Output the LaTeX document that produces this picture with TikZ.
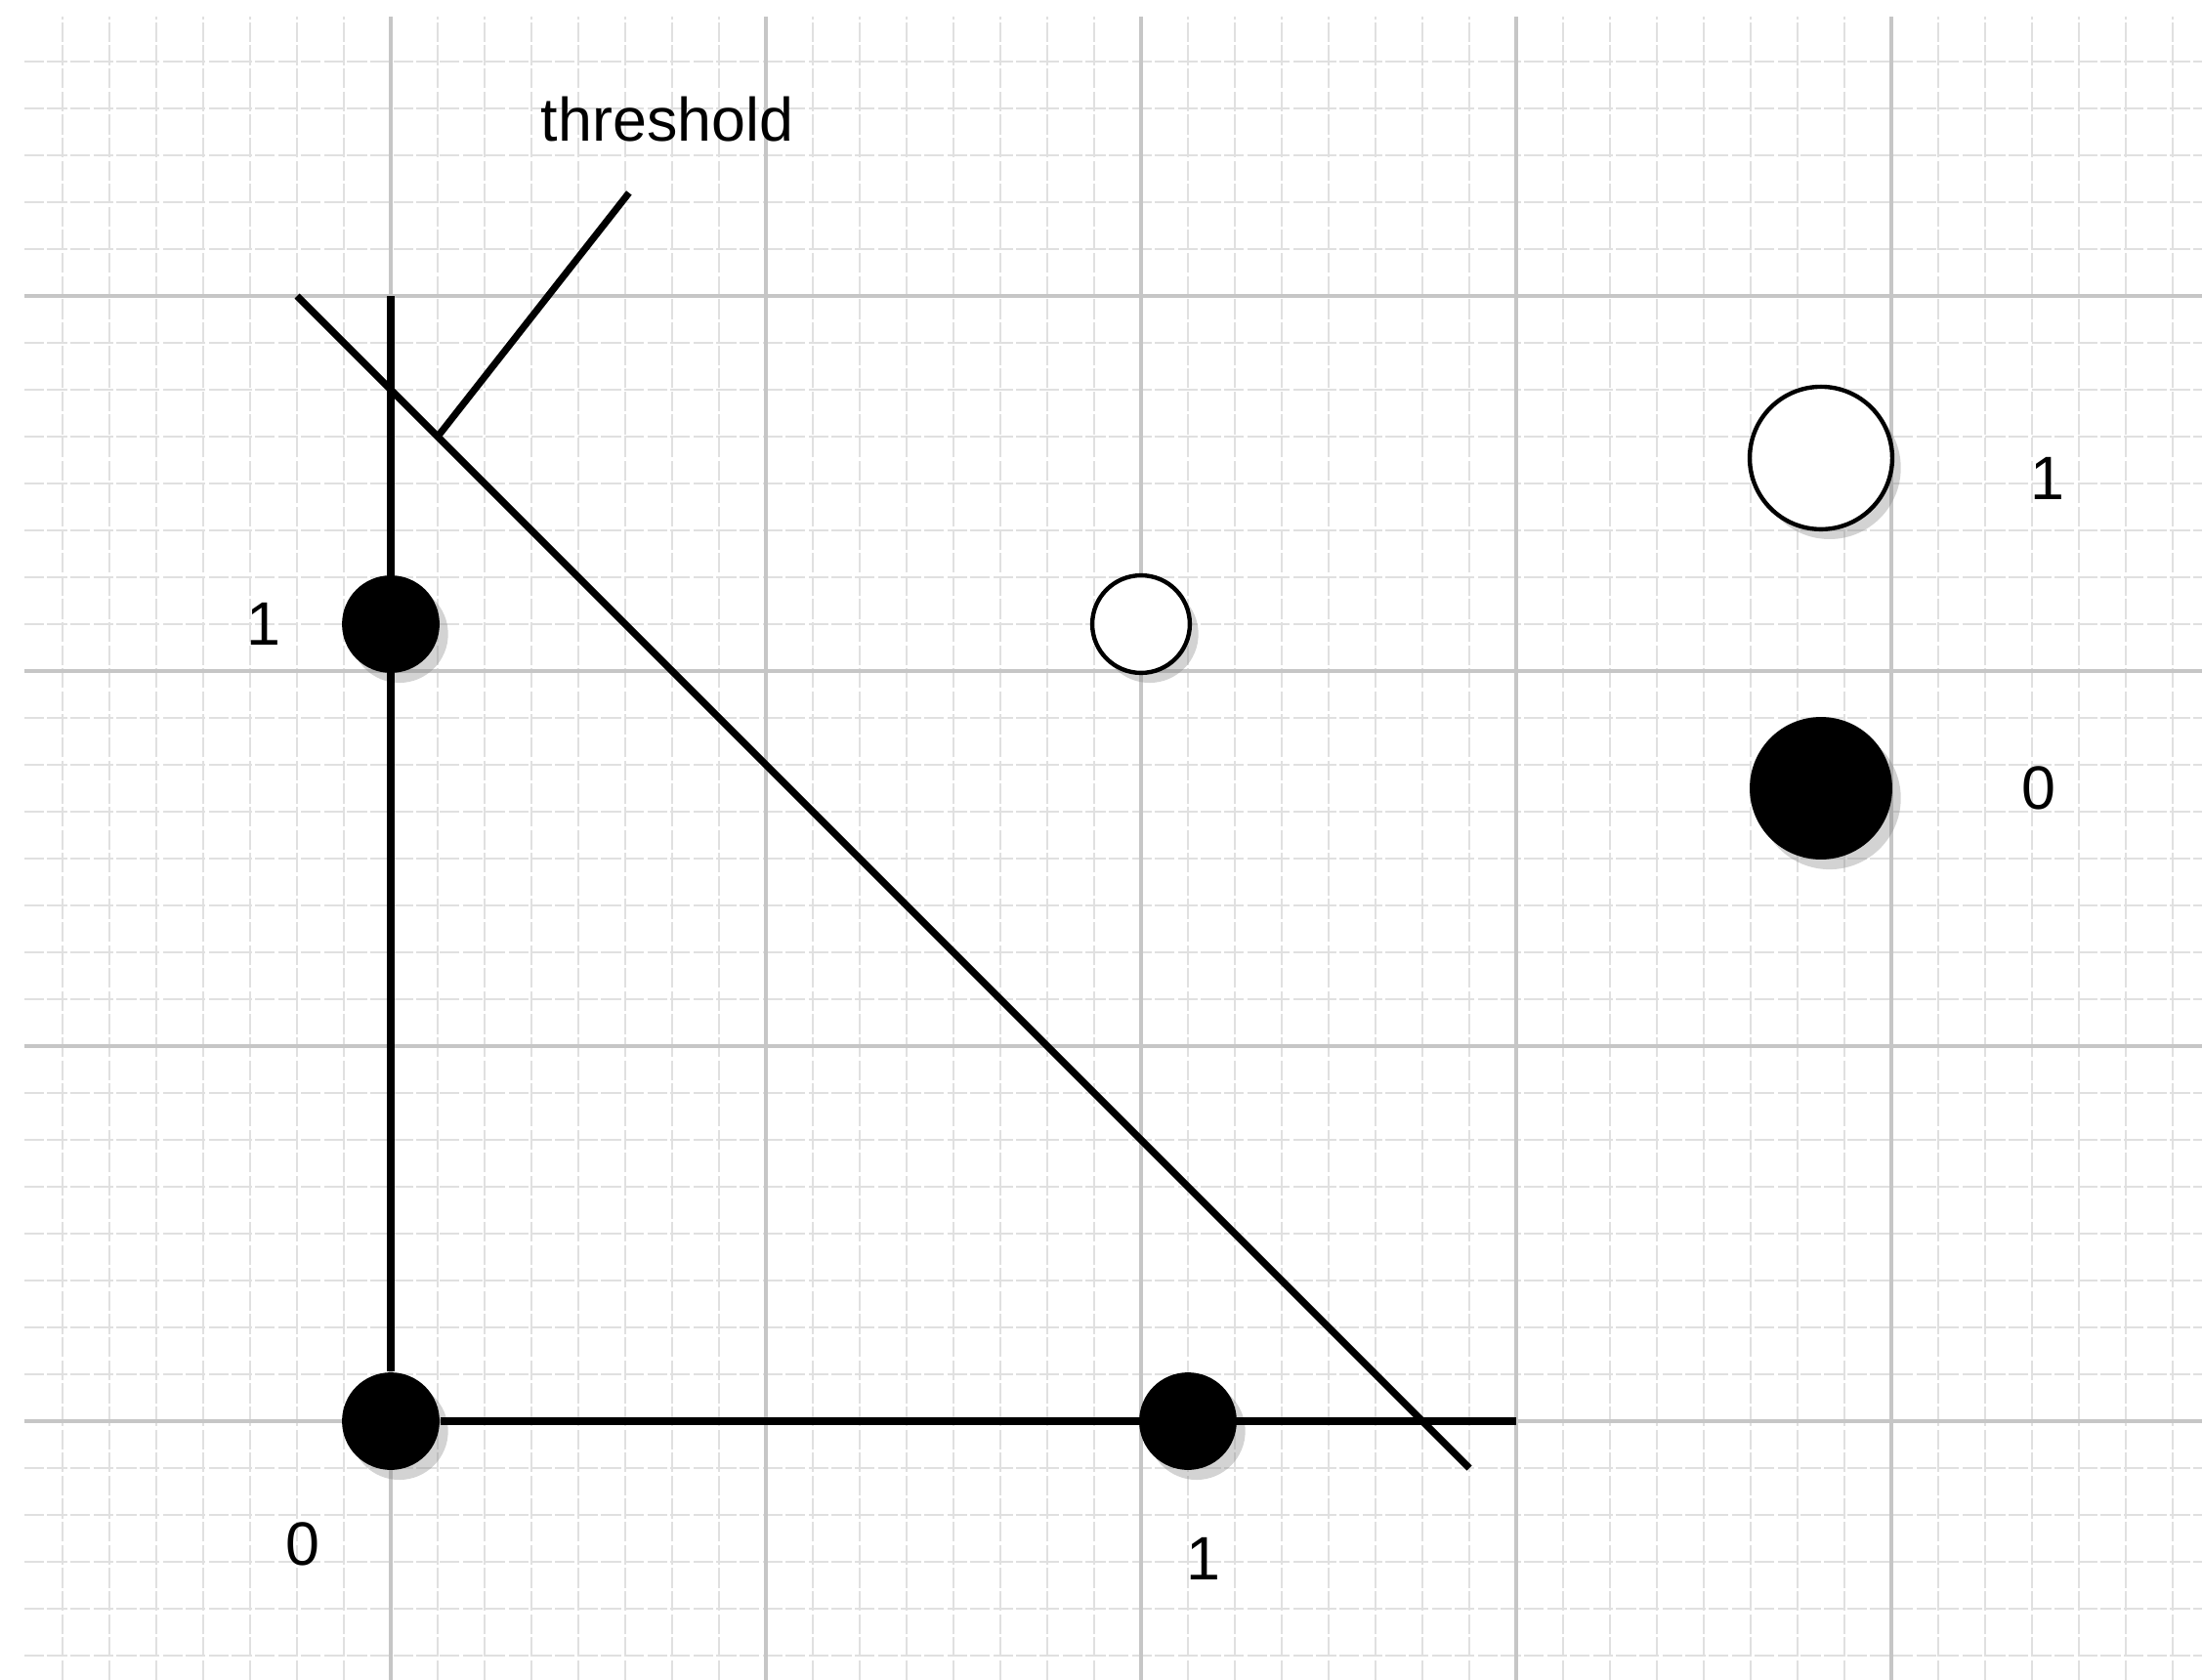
\documentclass[tikz,border=0pt]{standalone}
\usepackage{fontspec}
\setmainfont{Liberation Sans}
\usetikzlibrary{positioning, shadows}

\begin{document}
\begin{tikzpicture}[x=2cm, y=2cm, font=\fontsize{9.3}{11}\selectfont,
    dot/.style={circle, fill=black, inner sep=0pt, minimum size=0.52cm,
        drop shadow={shadow xshift=1.3pt, shadow yshift=-1.5pt, opacity=0.35}},
    hollow/.style={dot, fill=white, draw=black, line width=0.65pt},
    big/.style={minimum size=0.76cm},
    lbl/.style={inner sep=0pt, on grid},
    axis/.style={line width=1.05pt}]
    \useasboundingbox (-1.0417,-0.6901) rectangle (4.8281,3.7891);
    \draw[gray!24, line width=0.35pt, dash pattern=on 3pt off 0.5pt] (-0.977,-0.6901) grid[step=0.125] (4.8281,3.745);
    \draw[gray!45, line width=0.45pt] (-0.977,-0.6901) grid[step=1] (4.8281,3.745);

    \node[dot] (o) at (0,0) {};
    \node[dot] (ya) at (0,2.125) {};
    \node[dot] (xa) at (2.125,0) {};
    \node[hollow] (wt) at (2,2.125) {};
    \node[hollow, big] (bw) at (3.8125,2.568) {};
    \node[dot, big] (bb) at (3.8125,1.6875) {};

    \coordinate (ytop) at (0,3);
    \coordinate (xend) at (3,0);
    \coordinate (t1) at (-0.25,3);
    \coordinate (t2) at (2.875,-0.125);
    \coordinate (tp) at (0.125,2.625);
    \coordinate (tq) at (0.635,3.275);

    \draw[axis] (o) -- (ytop);
    \draw[axis] (o) -- (xend);
    \draw[axis] (t1) -- (t2);
    \draw[axis] (tp) -- (tq);

    \node (thr) at (0.737,3.471) {threshold};
    \node[lbl, below left=0.656cm and 0.468cm of o] (ol) {0};
    \node[lbl, left=0.678cm of ya] (yl) {1};
    \node[lbl, below right=0.734cm and 0.084cm of xa] (xl) {1};
    \node[lbl, below right=0.11cm and 1.208cm of bw] (bwl) {1};
    \node[lbl, right=1.16cm of bb] (bbl) {0};
\end{tikzpicture}
\end{document}
